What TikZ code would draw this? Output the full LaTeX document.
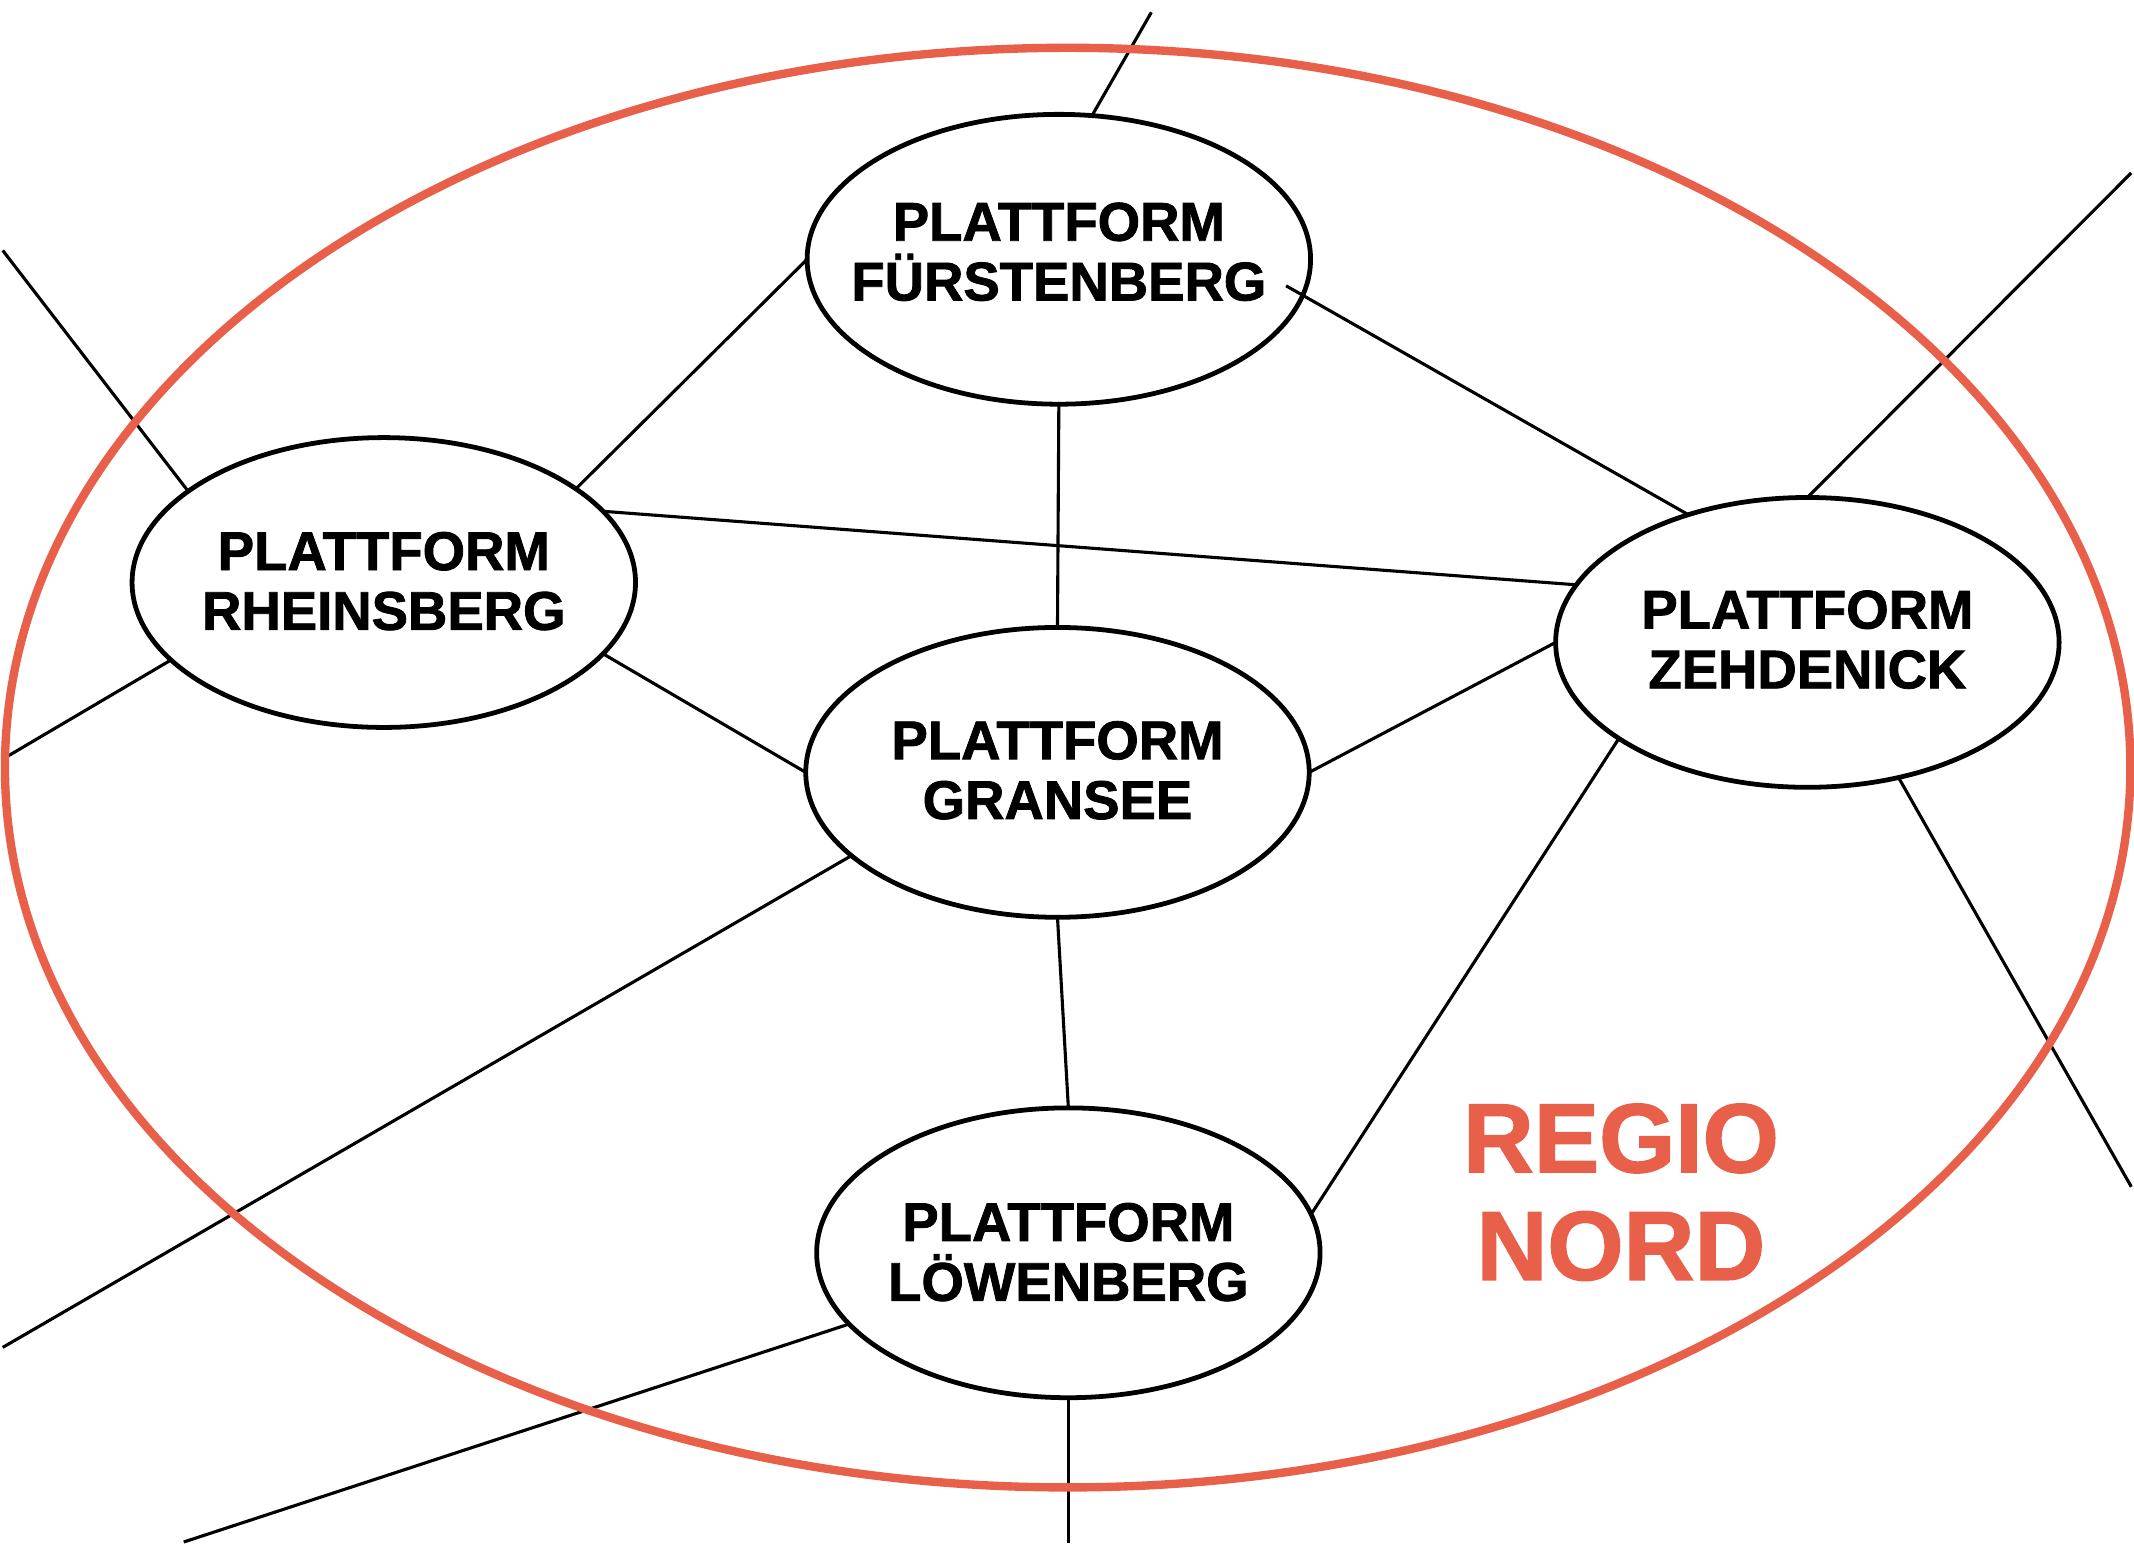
\documentclass[tikz,border=0pt]{standalone}
\usepackage{fontspec}
\setmainfont{Liberation Sans}[BoldFeatures={FakeBold=1.5}]
\usetikzlibrary{shapes.geometric,calc}
\definecolor{regio}{HTML}{E8604A}
\begin{document}
\begin{tikzpicture}[x=0.02cm,y=-0.02cm,
  plat/.style={ellipse,draw=black,line width=2pt,minimum width=7.4cm,minimum height=4.26cm,inner sep=0pt,outer sep=0pt},
  plattext/.style={align=center,inner sep=0pt,font=\bfseries\fontsize{22.8}{25}\selectfont},
  conn/.style={draw=black,line width=1.3pt},
  regiotext/.style={text=regio,align=center,font=\bfseries\fontsize{41}{45}\selectfont}]
\useasboundingbox (0,0) rectangle (1568,1134);
\node[plat] (F) at (778,190.5) {};
\node[plat] (R) at (282,428) {};
\node[plat] (G) at (777,567.5) {};
\node[plat] (Z) at (1328,472) {};
\node[plat] (L) at (785,920.5) {};
\node[plattext] (Ft) at (778,185) {PLATTFORM\\FÜRSTENBERG};
\node[plattext] (Rt) at (282,427) {PLATTFORM\\RHEINSBERG};
\node[plattext] (Gt) at (777,566) {PLATTFORM\\GRANSEE};
\node[plattext] (Zt) at (1328,470) {PLATTFORM\\ZEHDENICK};
\node[plattext] (Lt) at (785,920) {PLATTFORM\\LÖWENBERG};
\node[regiotext] (T) at (1191,876) {REGIO\\NORD};
\coordinate (eF) at (846,9);
\coordinate (eR1) at (2,184);
\coordinate (eR2) at (5,556);
\coordinate (eG) at (2,990);
\coordinate (eZ1) at (1566,127);
\coordinate (eZ2) at (1566,872);
\coordinate (eL1) at (135,1133);
\coordinate (eL2) at (785,1134);
\coordinate (fz) at ($(F.center)+(167,19.5)$);
\draw[conn] (F.77) -- (eF);
\draw[conn] (F.180) -- (R.26);
\draw[conn] (F.270) -- (G.90);
\draw[conn] (fz) -- (Z.133.8);
\draw[conn] (R.18.2) -- (Z.166.2);
\draw[conn] (R.-18.2) -- (G.180);
\draw[conn] (R.155.5) -- (eR1);
\draw[conn] (R.200.7) -- (eR2);
\draw[conn] (G.0) -- (Z.180);
\draw[conn] (G.202.5) -- (eG);
\draw[conn] (G.270) -- (L.90);
\draw[conn] (Z.207.4) -- (L.9.7);
\draw[conn] (Z.90) -- (eZ1);
\draw[conn] (Z.-56.8) -- (eZ2);
\draw[conn] (L.198.9) -- (eL1);
\draw[conn] (L.270) -- (eL2);
\node[ellipse,draw=regio,line width=3.5pt,minimum width=31.24cm,minimum height=21.16cm,inner sep=0pt,outer sep=0pt] (O) at (784.5,564) {};
\end{tikzpicture}
\end{document}
